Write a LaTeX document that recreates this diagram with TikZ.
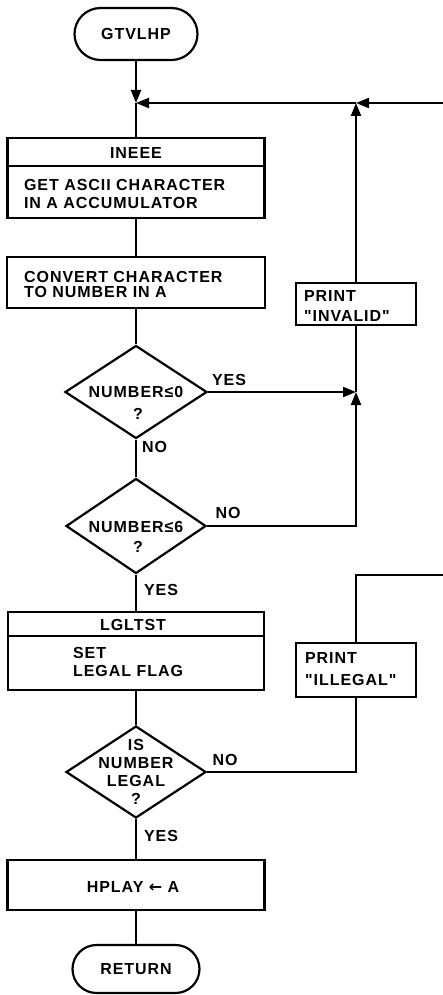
\documentclass[tikz,border=0pt]{standalone}
\usepackage{fontspec}
\newfontfamily\ff[LetterSpace=6]{Liberation Sans}
\newfontfamily\dv{DejaVu Sans}
\usetikzlibrary{arrows.meta,shapes.geometric,shapes.misc}
\begin{document}
\begin{tikzpicture}[x=1pt,y=-1pt,line width=2.2pt,
  every node/.style={font=\ff\bfseries\fontsize{16}{18}\selectfont},
  box/.style={draw,rectangle,inner sep=0pt},
  term/.style={draw,rounded rectangle,inner sep=0pt},
  dec/.style={draw,diamond,inner sep=0pt},
  txt/.style={inner sep=0pt},
  lbl/.style={inner sep=0pt},
  arr/.style={-{Triangle[length=13pt,width=10pt]}}]
\useasboundingbox (0,0) rectangle (443,995);

% nodes
\node[term,minimum width=123pt,minimum height=52pt] (start) at (136,34) {GTVLHP};

\node[box,minimum width=257pt,minimum height=80pt] (ineee) at (136,178) {};
\draw ([yshift=-29pt]ineee.north west) -- ([yshift=-29pt]ineee.north east);
\node[txt] (ineeeT) at (136,152.5) {INEEE};
\node[txt,anchor=west,align=left] (ineeeB) at (23,194) {GET ASCII CHARACTER\\IN A ACCUMULATOR};

\node[box,minimum width=258pt,minimum height=51pt] (conv) at (136,282.5) {};
\node[txt,anchor=west,align=left] (convT) at (23,284.5) {CONVERT CHARACTER\\[-3pt]TO NUMBER IN A};

\node[box,minimum width=120pt,minimum height=42pt] (inv) at (356,304) {};
\node[txt,anchor=west,align=left] (invT) at (303,306) {PRINT\\[2pt]"INVALID"};

\node[dec,minimum width=142pt,minimum height=93pt] (d1) at (136,392) {};
\node[txt] (d1a) at (136,392) {NUMBER≤0};
\node[txt] (d1b) at (138,414) {?};

\node[dec,minimum width=140pt,minimum height=95pt] (d2) at (136,526) {};
\node[txt] (d2a) at (136,527) {NUMBER≤6};
\node[txt] (d2b) at (138,547) {?};

\node[box,minimum width=256pt,minimum height=78pt] (lgl) at (136,651) {};
\draw ([yshift=-25pt]lgl.north west) -- ([yshift=-25pt]lgl.north east);
\node[txt] (lglT) at (133,625) {LGLTST};
\node[txt,anchor=west,align=left] (lglB) at (72,662) {SET\\LEGAL FLAG};

\node[box,minimum width=120pt,minimum height=54pt] (ill) at (356,670) {};
\node[txt,anchor=west,align=left] (illT) at (304,669) {PRINT\\[4pt]"ILLEGAL"};

\node[dec,minimum width=140pt,minimum height=92pt] (d3) at (136,772) {};
\node[txt,align=center] (d3T) at (136,772) {IS\\NUMBER\\LEGAL\\?};

\node[box,minimum width=257pt,minimum height=50pt] (hplay) at (136,885) {};
\node[txt] (hplayT) at (133,887) {HPLAY {\dv\bfseries ←} A};

\node[term,minimum width=127pt,minimum height=48pt] (ret) at (136,969) {RETURN};

% junctions
\coordinate (j1) at (136,103);
\coordinate (j2) at (356,103);
\coordinate (e1) at (443,103);
\coordinate (j3) at (356,392);
\coordinate (c2) at (356,526);
\coordinate (c3) at (356,575);
\coordinate (e2) at (443,575);
\coordinate (c4) at (356,772);

% connectors
\draw[arr] (start) -- (j1);
\draw (j1) -- (ineee);
\draw[arr] (e1) -- (j2);
\draw[arr] (j2) -- (j1);
\draw[arr] (inv) -- (j2);
\draw (ineee) -- (conv);
\draw (conv) -- (d1);
\draw[arr] (d1.east) -- (j3);
\draw (j3) -- (inv);
\draw[arr] (d2.east) -- (c2) -- (j3);
\draw (d1) -- (d2);
\draw (d2) -- (lgl);
\draw (lgl) -- (d3);
\draw (d3.east) -- (c4) -- (ill);
\draw (ill) -- (c3) -- (e2);
\draw (d3) -- (hplay);
\draw (hplay) -- (ret);

% labels
\node[lbl] (l1) at (229,380) {YES};
\node[lbl,anchor=west] (l2) at (141,447) {NO};
\node[lbl] (l3) at (228,513) {NO};
\node[lbl,anchor=west] (l4) at (143,590) {YES};
\node[lbl] (l5) at (225,760) {NO};
\node[lbl,anchor=west] (l6) at (143,836) {YES};
\end{tikzpicture}
\end{document}
